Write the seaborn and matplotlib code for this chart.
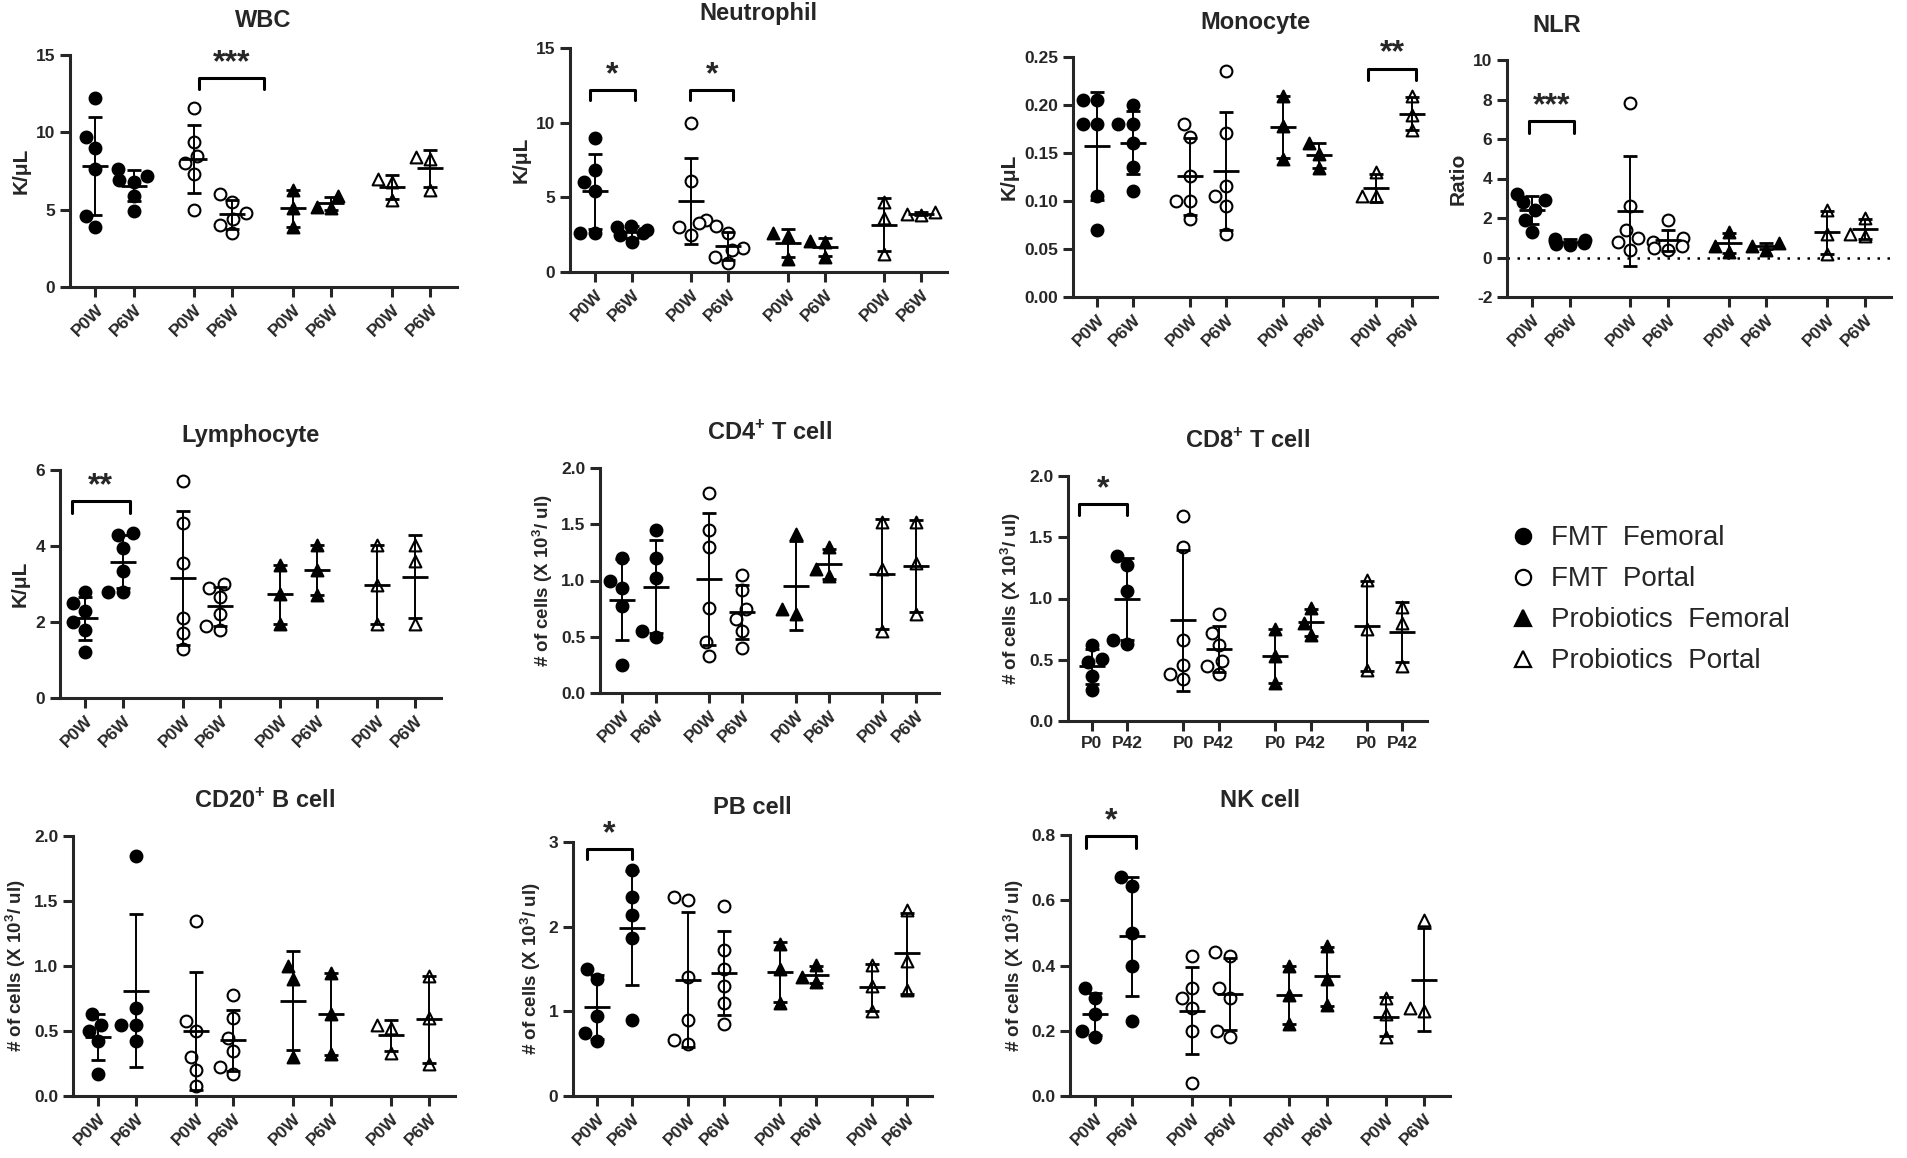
import numpy as np
import pandas as pd
import matplotlib.pyplot as plt
from matplotlib.lines import Line2D
from matplotlib.ticker import FormatStrFormatter
import seaborn as sns

sns.set_style("ticks")
plt.rcParams["font.family"] = ["Liberation Sans", "DejaVu Sans"]
plt.rcParams["font.weight"] = "bold"
plt.rcParams["axes.unicode_minus"] = False
plt.rcParams["mathtext.fontset"] = "custom"
plt.rcParams["mathtext.bf"] = "Liberation Sans:bold"
plt.rcParams["mathtext.rm"] = "Liberation Sans:bold"

# groups and time points
groups = ["FMT  Femoral", "FMT  Portal", "Probiotics  Femoral", "Probiotics  Portal"]
times = ["P0W", "P6W"]
times_cd8 = ["P0", "P42"]
x_pos = [0, 1, 2.6, 3.6, 5.2, 6.2, 7.8, 8.8]

# values: one list per group x time (P0W, P6W)
wbc = [[12.2, 9.7, 9.0, 7.6, 4.6, 3.9], [7.6, 7.2, 6.9, 6.8, 5.9, 4.9],
       [11.6, 9.4, 8.5, 8.0, 7.3, 5.0], [6.0, 5.5, 4.8, 4.4, 4.0, 3.5],
       [6.3, 5.1, 3.9], [5.9, 5.2, 5.1],
       [7.0, 6.8, 5.6], [8.4, 8.3, 6.3]]
neutrophil = [[9.0, 6.8, 6.0, 5.4, 2.6, 2.6], [3.1, 3.0, 2.8, 2.6, 2.5, 2.0],
              [10.0, 6.1, 3.5, 3.3, 3.0, 2.5], [3.1, 2.6, 1.6, 1.5, 1.0, 0.6],
              [2.6, 2.4, 0.9], [2.1, 2.0, 1.0],
              [4.7, 3.6, 1.2], [4.0, 3.9, 3.8]]
monocyte = [[0.205, 0.205, 0.180, 0.180, 0.105, 0.070], [0.200, 0.180, 0.180, 0.160, 0.135, 0.110],
            [0.180, 0.167, 0.126, 0.100, 0.100, 0.081], [0.235, 0.171, 0.116, 0.105, 0.095, 0.066],
            [0.209, 0.178, 0.144], [0.160, 0.149, 0.134],
            [0.130, 0.105, 0.105], [0.209, 0.190, 0.174]]
nlr = [[3.2, 2.9, 2.8, 2.4, 1.9, 1.3], [0.95, 0.9, 0.85, 0.75, 0.7, 0.65],
       [7.8, 2.6, 1.4, 1.0, 0.8, 0.4], [1.9, 1.0, 0.8, 0.6, 0.5, 0.4],
       [1.3, 0.6, 0.3], [0.75, 0.6, 0.4],
       [2.4, 1.2, 0.2], [2.0, 1.2, 1.1]]
lymphocyte = [[2.8, 2.5, 2.3, 2.0, 1.8, 1.2], [4.35, 4.3, 3.95, 3.35, 2.8, 2.8],
              [5.7, 4.6, 3.55, 2.1, 1.7, 1.3], [3.0, 2.9, 2.65, 2.2, 1.9, 1.8],
              [3.5, 2.75, 1.95], [4.03, 3.37, 2.7],
              [4.03, 2.98, 1.95], [4.03, 3.6, 1.95]]
cd4 = [[1.2, 1.0, 0.93, 0.77, 0.25], [1.45, 1.2, 1.02, 0.55, 0.5],
       [1.78, 1.45, 1.3, 0.76, 0.45, 0.33], [1.05, 0.92, 0.75, 0.66, 0.55, 0.4],
       [1.41, 0.75, 0.7], [1.3, 1.1, 1.04],
       [1.52, 1.1, 0.55], [1.52, 1.16, 0.7]]
cd8 = [[0.62, 0.51, 0.48, 0.37, 0.25], [1.35, 1.27, 1.06, 0.66, 0.63],
       [1.67, 1.42, 0.66, 0.46, 0.38, 0.34], [0.87, 0.72, 0.62, 0.49, 0.45, 0.38],
       [0.75, 0.53, 0.31], [0.92, 0.8, 0.7],
       [1.15, 0.75, 0.42], [0.93, 0.8, 0.45]]
cd20 = [[0.63, 0.55, 0.5, 0.42, 0.17], [1.85, 0.68, 0.55, 0.55, 0.42],
        [1.35, 0.58, 0.5, 0.3, 0.2, 0.08], [0.78, 0.6, 0.45, 0.35, 0.22, 0.17],
        [1.0, 0.9, 0.3], [0.95, 0.63, 0.32],
        [0.55, 0.52, 0.33], [0.92, 0.6, 0.25]]
pb = [[1.5, 1.38, 0.95, 0.75, 0.65], [2.67, 2.35, 2.14, 1.87, 0.9],
      [2.35, 2.32, 1.4, 0.9, 0.66, 0.62], [2.25, 1.72, 1.5, 1.3, 1.1, 0.85],
      [1.8, 1.5, 1.1], [1.55, 1.4, 1.35],
      [1.55, 1.3, 1.0], [2.2, 1.6, 1.25]]
nk = [[0.33, 0.3, 0.25, 0.2, 0.18], [0.67, 0.645, 0.5, 0.4, 0.23],
      [0.43, 0.33, 0.3, 0.27, 0.2, 0.04], [0.44, 0.43, 0.33, 0.3, 0.2, 0.18],
      [0.4, 0.31, 0.22], [0.46, 0.36, 0.28],
      [0.3, 0.25, 0.18], [0.54, 0.27, 0.26]]

W, H = 1908, 1158
fig = plt.figure(figsize=(W / 100, H / 100), dpi=100)

marker_style = [("o", "black"), ("o", "white"), ("^", "black"), ("^", "white")]
cells_label = r"# of cells (X 10$^\mathbf{3}$/ ul)"


def rect(l, t, r, b):
    return [l / W, 1 - b / H, (r - l) / W, (b - t) / H]


def panel(box, values, title, ylabel, ylim, yticks, fmt, sig=(),
          xlabels=times, rot=45, title_x=0.5, zero_line=False, ylabel_size=15):
    ax = fig.add_axes(rect(*box))
    rows = []
    for i, vals in enumerate(values):
        for v in vals:
            rows.append((x_pos[i], v, groups[i // 2]))
    df = pd.DataFrame(rows, columns=["x", "value", "group"])
    for g, (m, c) in zip(groups, marker_style):
        sns.swarmplot(data=df[df.group == g], x="x", y="value", native_scale=True,
                      marker=m, color=c, edgecolor="black", linewidth=1.5,
                      size=8.5, ax=ax, zorder=3, warn_thresh=1)
    for i, vals in enumerate(values):
        a = np.array(vals)
        ax.errorbar(x_pos[i], a.mean(), yerr=a.std(ddof=1), fmt="_", color="black",
                    ms=19, mew=2, elinewidth=1.4, capsize=5, capthick=1.4, zorder=4)
    if zero_line:
        ax.axhline(0, color="black", ls=(0, (1, 3)), lw=1.8, zorder=1)
    for x0, x1, yb, yt, stars in sig:
        ax.plot([x0, x0, x1, x1], [yt, yb, yb, yt], color="black", lw=2.2, clip_on=False)
        ax.annotate(stars, ((x0 + x1) / 2, yb), xytext=(0, 0), textcoords="offset points",
                    ha="center", va="bottom", fontsize=23, annotation_clip=False)
    ax.set_xlim(-0.67, 9.5)
    ax.set_ylim(*ylim)
    ax.set_yticks(yticks)
    ax.yaxis.set_major_formatter(FormatStrFormatter(fmt))
    ax.set_xticks(x_pos)
    ax.set_xticklabels(xlabels * 4, rotation=rot,
                       ha="right" if rot else "center",
                       rotation_mode="anchor" if rot else "default")
    ax.set_xlabel("")
    ax.set_ylabel(ylabel, fontsize=ylabel_size, fontweight="bold")
    ax.set_title(title, fontsize=17, fontweight="bold", pad=20, x=title_x)
    sns.despine(ax=ax)
    for s in ["left", "bottom"]:
        ax.spines[s].set_linewidth(2.2)
    ax.tick_params(width=2.2, length=7, labelsize=12.5)
    for lab in ax.get_xticklabels() + ax.get_yticklabels():
        lab.set_fontweight("bold")
    return ax


panel((70, 55, 457, 287), wbc, "WBC", "K/μL", (0, 15), [0, 5, 10, 15], "%d",
      sig=[(2.73, 4.44, 13.5, 12.8, "***")])
panel((570, 48, 947, 272), neutrophil, "Neutrophil", "K/μL", (0, 15), [0, 5, 10, 15], "%d",
      sig=[(-0.14, 1.07, 12.2, 11.5, "*"), (2.57, 3.74, 12.2, 11.5, "*")])
panel((1073, 57, 1437, 297), monocyte, "Monocyte", "K/μL", (0, 0.25),
      [0, 0.05, 0.10, 0.15, 0.20, 0.25], "%.2f",
      sig=[(7.58, 8.91, 0.238, 0.226, "**")])
panel((1507, 60, 1891, 297), nlr, "NLR", "Ratio", (-2, 10), [-2, 0, 2, 4, 6, 8, 10], "%d",
      sig=[(-0.1, 1.1, 6.9, 6.3, "***")], title_x=0.13, zero_line=True)
panel((60, 470, 441, 698), lymphocyte, "Lymphocyte", "K/μL", (0, 6), [0, 2, 4, 6], "%d",
      sig=[(-0.35, 1.19, 5.18, 4.88, "**")])
panel((600, 468, 939, 693), cd4, r"CD4$^\mathbf{+}$ T cell", cells_label, (0, 2),
      [0, 0.5, 1.0, 1.5, 2.0], "%.1f", ylabel_size=13.5)
panel((1068, 476, 1427, 721), cd8, r"CD8$^\mathbf{+}$ T cell", cells_label, (0, 2),
      [0, 0.5, 1.0, 1.5, 2.0], "%.1f", ylabel_size=13.5,
      sig=[(-0.37, 1.0, 1.77, 1.68, "*")], xlabels=times_cd8, rot=0)
panel((73, 836, 455, 1096), cd20, r"CD20$^\mathbf{+}$ B cell", cells_label, (0, 2),
      [0, 0.5, 1.0, 1.5, 2.0], "%.1f", ylabel_size=13.5)
panel((573, 842, 932, 1096), pb, "PB cell", cells_label, (0, 3), [0, 1, 2, 3], "%d",
      ylabel_size=13.5, sig=[(-0.28, 1.0, 2.92, 2.8, "*")])
panel((1070, 835, 1450, 1096), nk, "NK cell", cells_label, (0, 0.8),
      [0, 0.2, 0.4, 0.6, 0.8], "%.1f", ylabel_size=13.5,
      sig=[(-0.25, 1.1, 0.797, 0.761, "*")])

handles = [Line2D([], [], ls="", marker=m, markerfacecolor=c, markeredgecolor="black",
                  markeredgewidth=1.6, markersize=11) for m, c in marker_style]
fig.legend(handles, groups, loc="center left", bbox_to_anchor=(0.778, 0.482),
           frameon=False, prop={"size": 20, "weight": "normal"},
           handlelength=1.0, handletextpad=0.5, labelspacing=0.54)

fig.savefig("out.png", dpi=100)
